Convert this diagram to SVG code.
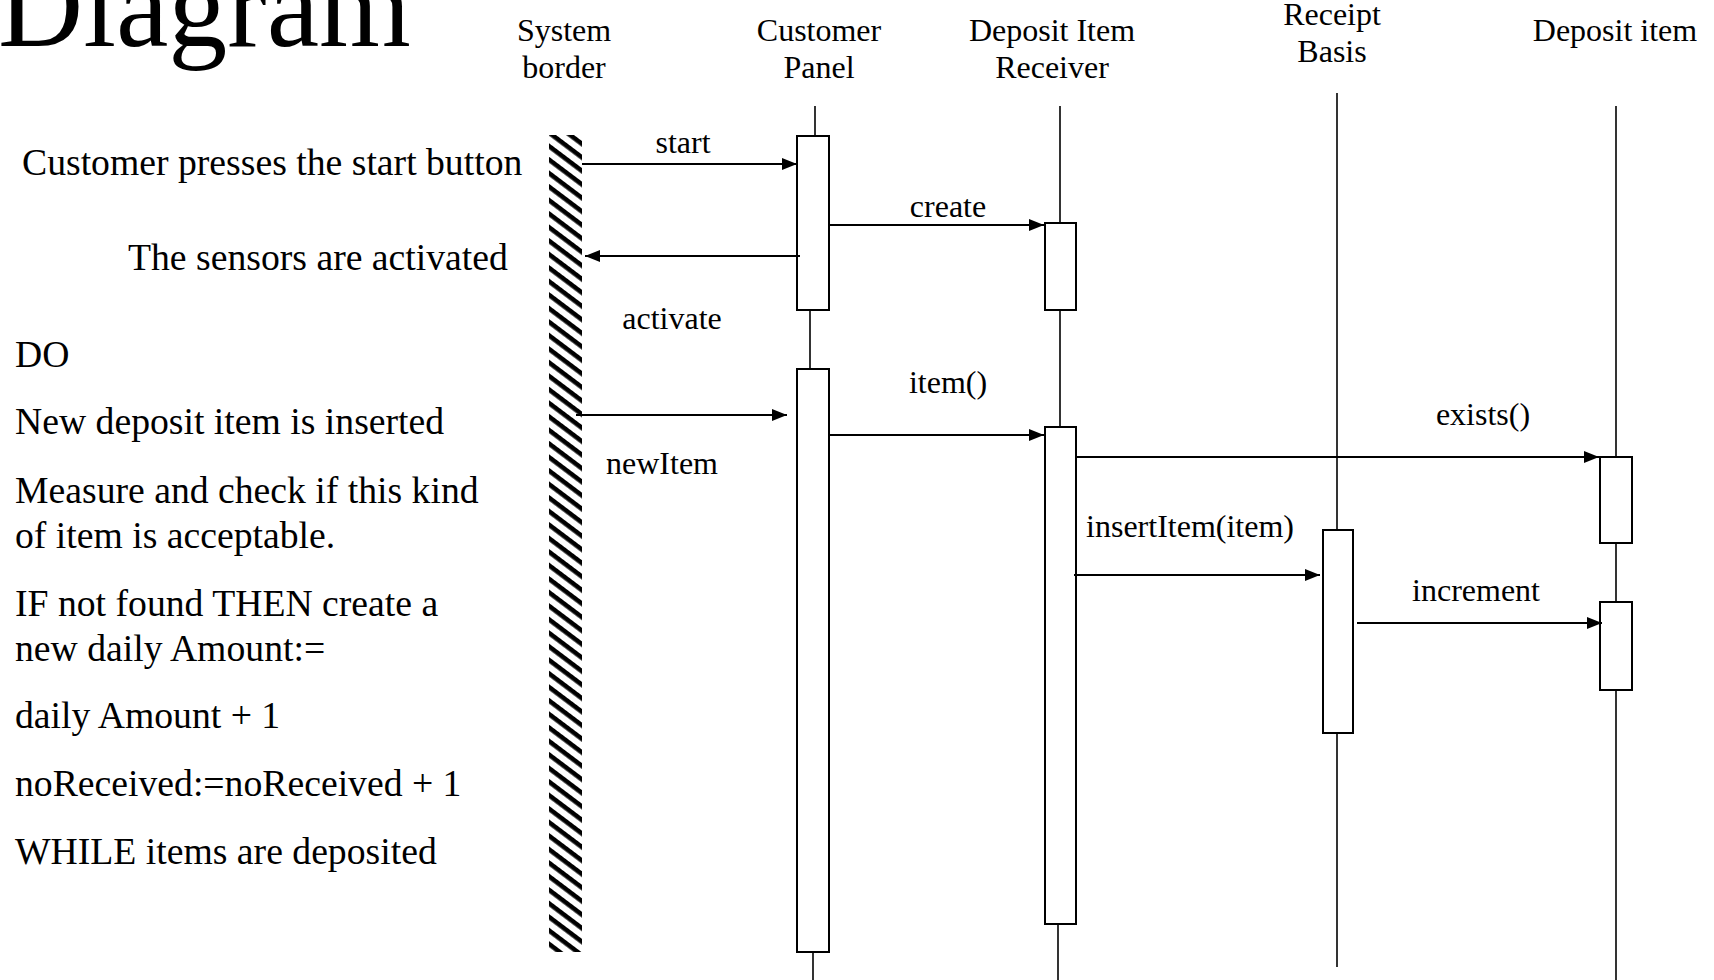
<svg xmlns="http://www.w3.org/2000/svg" width="1714" height="980" viewBox="0 0 1714 980">
<style>
text{font-family:"Liberation Serif","Times New Roman",serif;fill:#000}
.title{font-size:118px}
.note{font-size:37.7px}
.hdr{font-size:32px;text-anchor:middle}
.lbl{font-size:32px;text-anchor:middle}
.life{stroke:#000;stroke-width:1.6;fill:none}
.act{stroke:#000;stroke-width:2;fill:#fff}
.msg{stroke:#000;stroke-width:2;fill:none;marker-end:url(#arr)}
</style>
<defs>
<marker id="arr" markerUnits="userSpaceOnUse" markerWidth="16" markerHeight="14" refX="15" refY="6" orient="auto">
<path d="M0,0 L15,6 L0,12 Z" fill="#000"/>
</marker>
<pattern id="hatch" patternUnits="userSpaceOnUse" width="10.8" height="10.8" patternTransform="rotate(37)">
<rect x="0" y="0" width="10.8" height="4.6" fill="#000"/>
</pattern>
</defs>
<rect width="1714" height="980" fill="#fff"/>
<text class="title" x="-2" y="46">Diagram</text>
<g id="notes">
<text class="note" x="22" y="175">Customer presses the start button</text>
<text class="note" x="128" y="270">The sensors are activated</text>
<text class="note" x="15" y="367">DO</text>
<text class="note" x="15" y="434">New deposit item is inserted</text>
<text class="note" x="15" y="503">Measure and check if this kind</text>
<text class="note" x="15" y="548">of item is acceptable.</text>
<text class="note" x="15" y="616">IF not found THEN create a</text>
<text class="note" x="15" y="661">new daily Amount:=</text>
<text class="note" x="15" y="728">daily Amount + 1</text>
<text class="note" x="15" y="796">noReceived:=noReceived + 1</text>
<text class="note" x="15" y="864">WHILE items are deposited</text>
</g>
<g id="system-border">
<text class="hdr" x="564" y="41">System</text>
<text class="hdr" x="564" y="78">border</text>
<rect x="549" y="135" width="33" height="817" fill="url(#hatch)"/>
</g>
<g id="customer-panel">
<text class="hdr" x="819" y="41">Customer</text>
<text class="hdr" x="819" y="78">Panel</text>
<line class="life" x1="815" y1="106" x2="815" y2="136"/>
<line class="life" x1="810" y1="310" x2="810" y2="369"/>
<line class="life" x1="813" y1="952" x2="813" y2="980"/>
<rect class="act" x="797" y="136" width="32" height="174"/>
<rect class="act" x="797" y="369" width="32" height="583"/>
</g>
<g id="deposit-item-receiver">
<text class="hdr" x="1052" y="41">Deposit Item</text>
<text class="hdr" x="1052" y="78">Receiver</text>
<line class="life" x1="1060" y1="106" x2="1060" y2="223"/>
<line class="life" x1="1060" y1="310" x2="1060" y2="427"/>
<line class="life" x1="1058" y1="924" x2="1058" y2="980"/>
<rect class="act" x="1045" y="223" width="31" height="87"/>
<rect class="act" x="1045" y="427" width="31" height="497"/>
</g>
<g id="receipt-basis">
<text class="hdr" x="1332" y="25">Receipt</text>
<text class="hdr" x="1332" y="62">Basis</text>
<line class="life" x1="1337" y1="93" x2="1337" y2="967"/>
<rect class="act" x="1323" y="530" width="30" height="203"/>
</g>
<g id="deposit-item">
<text class="hdr" x="1615" y="41">Deposit item</text>
<line class="life" x1="1616" y1="106" x2="1616" y2="980"/>
<rect class="act" x="1600" y="457" width="32" height="86"/>
<rect class="act" x="1600" y="602" width="32" height="88"/>
</g>
<g id="connectors">
<line class="msg" x1="582" y1="164" x2="797" y2="164"/>
<text class="lbl" x="683" y="153">start</text>
<line class="msg" x1="800" y1="256" x2="585" y2="256"/>
<text class="lbl" x="672" y="329">activate</text>
<line class="msg" x1="829" y1="225" x2="1044" y2="225"/>
<text class="lbl" x="948" y="217">create</text>
<line class="msg" x1="576" y1="415" x2="787" y2="415"/>
<text class="lbl" x="662" y="474">newItem</text>
<line class="msg" x1="829" y1="435" x2="1044" y2="435"/>
<text class="lbl" x="948" y="393">item()</text>
<line class="msg" x1="1076" y1="457" x2="1599" y2="457"/>
<text class="lbl" x="1483" y="425">exists()</text>
<line class="msg" x1="1074" y1="575" x2="1320" y2="575"/>
<text class="lbl" x="1190" y="537">insertItem(item)</text>
<line class="msg" x1="1357" y1="623" x2="1602" y2="623"/>
<text class="lbl" x="1476" y="601">increment</text>
</g>
</svg>
